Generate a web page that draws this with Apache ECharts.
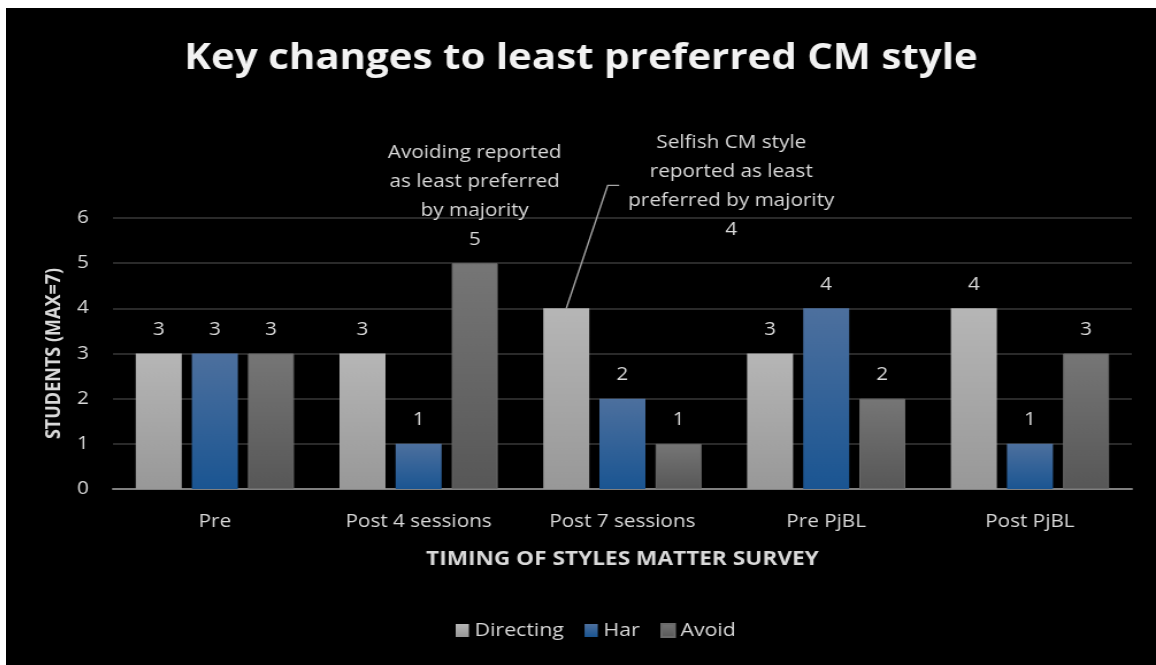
<!DOCTYPE html>
<html>
<head>
<meta charset="utf-8">
<script src="https://cdn.jsdelivr.net/npm/echarts@6/dist/echarts.min.js"></script>
<style>
html,body{margin:0;padding:0;background:#ffffff;width:1156px;height:665px;overflow:hidden;}
#wrap{position:absolute;left:6px;top:8px;width:1150px;height:657px;background:#000000;overflow:hidden;}
#chart{position:absolute;left:0;top:0;width:1000px;height:657px;transform:scaleX(1.15);transform-origin:0 0;}
</style>
</head>
<body>
<div id="wrap"><div id="chart"></div></div>
<script>
const titleText = 'Key changes to least preferred CM style';
const categories = ['Pre', 'Post 4 sessions', 'Post 7 sessions', 'Pre PjBL', 'Post PjBL'];
const directing = [3, 3, 4, 3, 4];
const har = [3, 1, 2, 4, 1];
const avoid = [3, 5, 1, 2, 3];
const yTicks = [0, 1, 2, 3, 4, 5, 6];
const seriesNames = ['Directing', 'Har', 'Avoid'];
const noteAvoid = 'Avoiding reported\nas least preferred\nby majority';
const noteSelfish = 'Selfish CM style\nreported as least\npreferred by majority';
const noteAvoidIndex = 1;   // Post 4 sessions, Avoid
const noteSelfishIndex = 2; // Post 7 sessions, Directing

const FONT = '"Open Sans", "Noto Sans", sans-serif';
const TXT = '#d9d9d9';

function grad(top, bottom) {
  return new echarts.graphic.LinearGradient(0, 0, 0, 1, [
    {offset: 0, color: top}, {offset: 1, color: bottom}
  ]);
}
const labelBase = {
  show: true, position: 'top', distance: 9,
  color: TXT, fontFamily: FONT, fontSize: 18, lineHeight: 29, align: 'center'
};

const dirData = directing.map((v, i) => i === noteSelfishIndex ? {
  value: v,
  label: Object.assign({}, labelBase, {
    formatter: noteSelfish + '\n{c}', offset: [143.5, -55]
  })
} : v);
const avoidData = avoid.map((v, i) => i === noteAvoidIndex ? {
  value: v,
  label: Object.assign({}, labelBase, {formatter: noteAvoid + '\n{c}'})
} : v);

const chart = echarts.init(document.getElementById('chart'), null, {renderer: 'canvas'});
const option = {
  backgroundColor: '#000000',
  animation: false,
  title: {
    text: titleText, left: 'center', top: 29,
    textStyle: {color: '#f2f2f2', fontFamily: FONT, fontSize: 35, fontWeight: 'bold'}
  },
  legend: {
    data: seriesNames, bottom: 20, left: 386,
    itemWidth: 11.5, itemHeight: 13, itemGap: 18,
    textStyle: {color: TXT, fontFamily: FONT, fontSize: 18.5},
    icon: 'rect'
  },
  grid: {left: 93, right: 21, top: 210, bottom: 176, containLabel: false},
  xAxis: {
    type: 'category', data: categories,
    name: 'TIMING OF STYLES MATTER SURVEY', nameLocation: 'middle', nameGap: 60,
    nameTextStyle: {color: TXT, fontFamily: FONT, fontSize: 19.7, fontWeight: 'bold'},
    axisLine: {lineStyle: {color: '#808080', width: 2}},
    axisTick: {show: false},
    axisLabel: {color: TXT, fontFamily: FONT, fontSize: 18, margin: 24},
    splitLine: {show: false}
  },
  yAxis: {
    type: 'value', min: yTicks[0], max: yTicks[yTicks.length - 1], interval: 1,
    name: 'STUDENTS (MAX=7)', nameLocation: 'middle', nameGap: 36,
    nameTextStyle: {color: TXT, fontFamily: FONT, fontSize: 18, fontWeight: 'bold'},
    axisLine: {show: false}, axisTick: {show: false},
    axisLabel: {color: TXT, fontFamily: FONT, fontSize: 18, margin: 21},
    splitLine: {lineStyle: {color: '#2a2a2a', width: 2}}
  },
  series: [
    {
      name: seriesNames[0], type: 'bar', data: dirData, barWidth: 40, barGap: '22%',
      color: '#a9a9a9',
      itemStyle: {color: grad('#b6b6b6', '#989898')},
      label: labelBase
    },
    {
      name: seriesNames[1], type: 'bar', data: har, barWidth: 40, barGap: '22%',
      color: '#2c5f9a',
      itemStyle: {color: grad('#4d709e', '#1a5592')},
      label: labelBase
    },
    {
      name: seriesNames[2], type: 'bar', data: avoidData, barWidth: 40, barGap: '22%',
      color: '#606060',
      itemStyle: {color: grad('#767676', '#575757'), borderColor: '#6a6a6a', borderWidth: 1},
      label: labelBase
    }
  ]
};
chart.setOption(option);

// Leader line for the "Selfish" callout, anchored to the bar's computed layout
function drawLeader() {
  const data = chart.getModel().getSeriesByIndex(0).getData();
  const lay = data.getItemLayout(noteSelfishIndex);
  if (!lay) return;
  const cx = lay.x + lay.width / 2;
  const top = lay.y + lay.height;
  chart.setOption({
    graphic: [{
      type: 'polyline', silent: true,
      shape: {points: [[cx, top], [cx + 36, top - 123], [cx + 46, top - 123]]},
      style: {stroke: '#a6a6a6', lineWidth: 1.4, fill: null}
    }]
  });
}
drawLeader();
</script>
</body>
</html>
